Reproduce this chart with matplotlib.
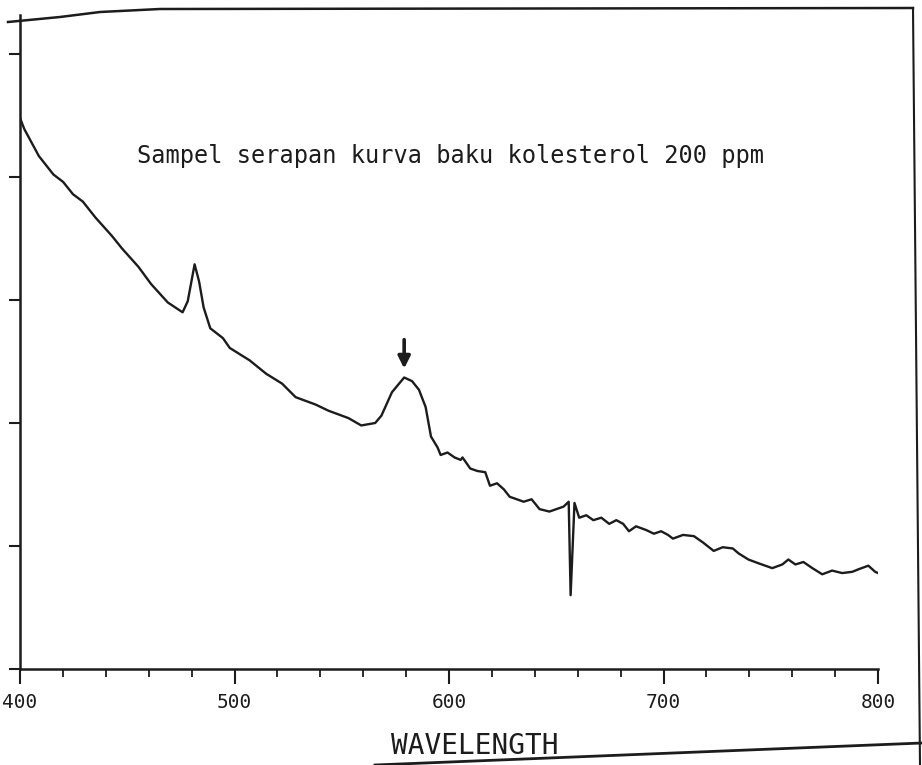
import matplotlib
matplotlib.use("Agg")
import matplotlib.pyplot as plt
from matplotlib.lines import Line2D
from matplotlib.ticker import MultipleLocator

# spectrum (wavelength in nm, absorbance)
wavelength = [400.0, 402.0, 408.8, 415.6, 420.1, 424.7, 429.3, 435.2, 442.9, 447.5,
              455.2, 461.1, 468.9, 475.8, 478.2, 481.4, 483.5, 485.6, 488.7, 494.6,
              497.8, 507.0, 514.8, 522.2, 528.5, 537.8, 543.8, 553.1, 559.1, 565.6,
              568.5, 573.4, 579.1, 582.8, 586.0, 589.1, 591.6, 594.7, 596.1, 599.3,
              602.6, 605.4, 606.3, 609.9, 613.2, 616.9, 619.1, 622.4, 625.6, 628.3,
              631.6, 634.8, 638.5, 642.2, 646.8, 650.1, 653.4, 655.8, 656.7, 658.5,
              660.7, 664.0, 667.3, 671.0, 674.7, 678.0, 681.2, 683.9, 687.2, 691.9,
              695.5, 698.9, 702.1, 704.4, 709.1, 714.2, 718.3, 723.4, 727.6, 732.3,
              735.0, 739.6, 744.2, 750.7, 755.4, 758.2, 761.5, 765.2, 769.4, 774.0,
              778.6, 783.3, 788.0, 790.8, 795.5, 798.7, 800.0]
absorbance = [0.448, 0.439, 0.417, 0.402, 0.396, 0.386, 0.380, 0.367, 0.352, 0.342,
              0.327, 0.313, 0.298, 0.290, 0.299, 0.329, 0.315, 0.294, 0.277, 0.269,
              0.261, 0.251, 0.240, 0.232, 0.221, 0.215, 0.210, 0.204, 0.198, 0.200,
              0.206, 0.225, 0.237, 0.234, 0.227, 0.213, 0.189, 0.180, 0.174, 0.176,
              0.172, 0.170, 0.172, 0.163, 0.161, 0.160, 0.149, 0.151, 0.146, 0.140,
              0.138, 0.136, 0.138, 0.130, 0.128, 0.130, 0.132, 0.136, 0.060, 0.135,
              0.123, 0.125, 0.121, 0.123, 0.118, 0.121, 0.118, 0.112, 0.116, 0.113,
              0.110, 0.112, 0.109, 0.106, 0.109, 0.108, 0.103, 0.096, 0.099, 0.098,
              0.094, 0.089, 0.086, 0.082, 0.085, 0.089, 0.085, 0.087, 0.082, 0.077,
              0.080, 0.078, 0.079, 0.081, 0.084, 0.079, 0.078]
peak_wl = 579.1
peak_abs = 0.237

x_ticks = [400, 500, 600, 700, 800]
y_ticks = [0.0, 0.1, 0.2, 0.3, 0.4, 0.5]

title = "Sampel serapan kurva baku kolesterol 200 ppm"
xlabel = "WAVELENGTH"

W, H = 922, 765
plt.rcParams["font.family"] = ["DejaVu Sans Mono", "DejaVu Sans"]
fig = plt.figure(figsize=(W / 100, H / 100), dpi=100)
ax = fig.add_axes([20 / W, 1 - 669 / H, 858 / W, (669 - 15) / H])

ink = "#1c1c1c"
ax.plot(wavelength, absorbance, color=ink, lw=1.7)
ax.annotate("", xy=(peak_wl, peak_abs + 0.005), xytext=(peak_wl, peak_abs + 0.033),
            arrowprops=dict(arrowstyle="-|>", color=ink, lw=2.6, mutation_scale=18))

ax.set_xlim(400, 800)
ax.set_ylim(0, 654 / 1230)
ax.set_xticks(x_ticks)
ax.xaxis.set_minor_locator(MultipleLocator(20))
ax.set_yticks(y_ticks)
ax.set_yticklabels([])  # labels are cut off the scan
ax.tick_params(axis="x", which="major", direction="out", length=11, width=1.5,
               pad=6, labelsize=14, colors=ink)
ax.tick_params(axis="x", which="minor", direction="out", length=6, width=1.3, colors=ink)
ax.tick_params(axis="y", direction="out", length=8, width=1.5, colors=ink)
for side in ["top", "right"]:
    ax.spines[side].set_visible(False)
for side in ["left", "bottom"]:
    ax.spines[side].set_linewidth(1.8)
    ax.spines[side].set_color(ink)

fig.text(450 / W, 1 - 156 / H, title, ha="center", va="center", fontsize=17, color=ink)
fig.text(475 / W, 1 - 746 / H, xlabel, ha="center", va="center", fontsize=20, color=ink)

# outer frame of the printout and the paper edge
def px_line(xs, ys, lw):
    fig.add_artist(Line2D([x / W for x in xs], [1 - y / H for y in ys],
                          transform=fig.transFigure, color=ink, lw=lw))

px_line([8, 60, 100, 160, 913], [22, 17, 12, 9, 8], 1.8)
px_line([913, 920], [8, 765], 1.5)
px_line([375, 922], [765, 743], 2.0)

fig.savefig("out.png", dpi=100)
